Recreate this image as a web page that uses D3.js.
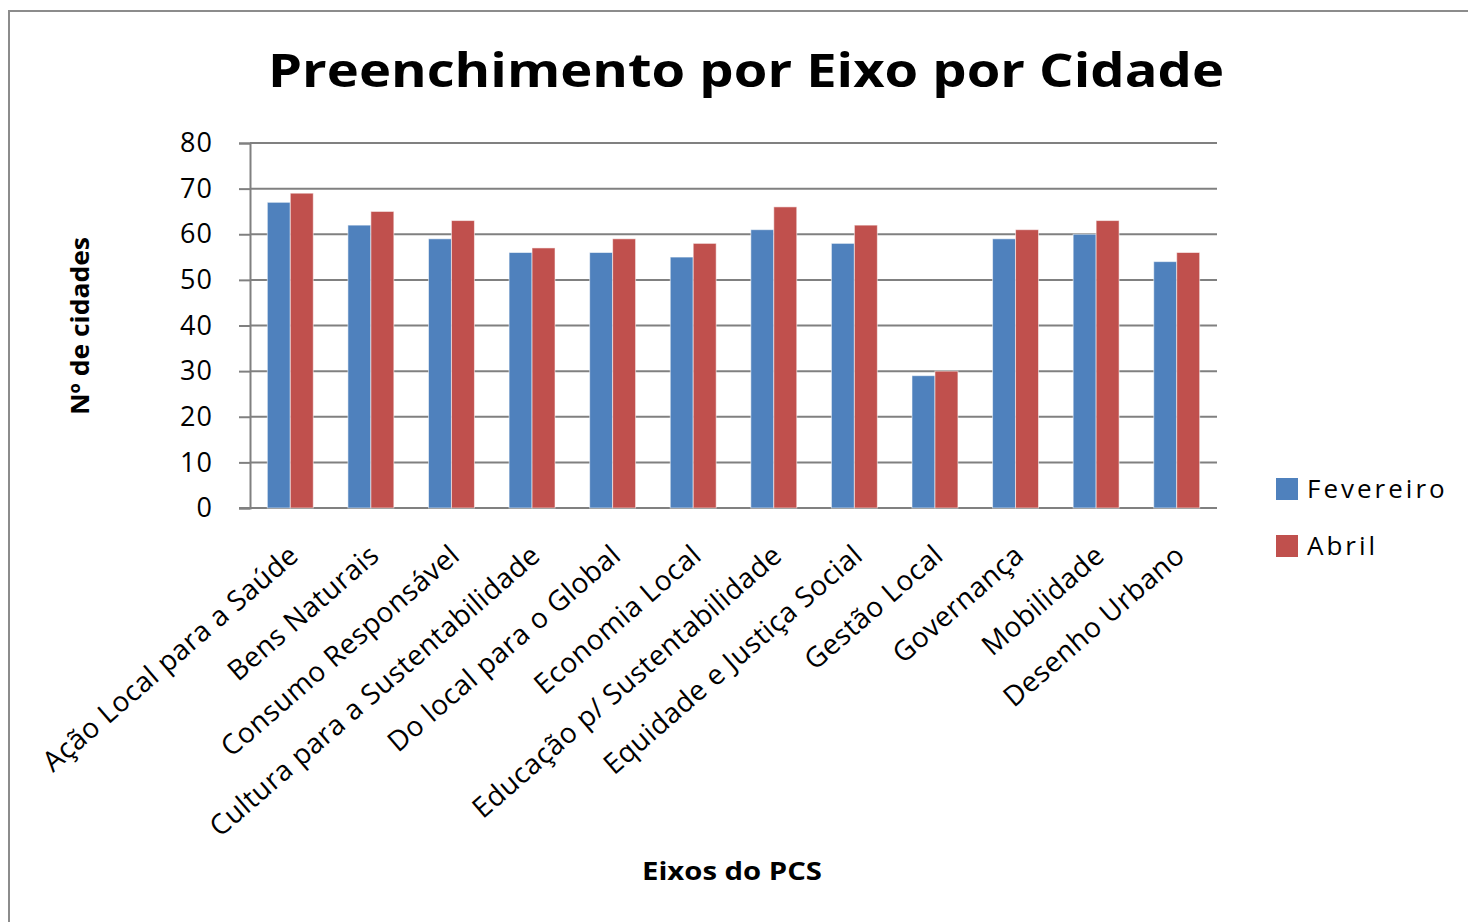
<!DOCTYPE html>
<html>
<head>
<meta charset="utf-8">
<script src="https://cdn.jsdelivr.net/npm/d3@7"></script>
<style>
  html, body { margin: 0; padding: 0; background: #fff; }
  svg { display: block; font-family: "Open Sans", "Noto Sans", sans-serif; }
</style>
</head>
<body>
<svg id="chart" width="1468" height="922"></svg>
<script>
// Eixos do PCS e número de cidades que preencheram cada eixo
const categories = [
  "Ação Local para a Saúde",
  "Bens Naturais",
  "Consumo Responsável",
  "Cultura para a Sustentabilidade",
  "Do local para o Global",
  "Economia Local",
  "Educação p/ Sustentabilidade",
  "Equidade e Justiça Social",
  "Gestão Local",
  "Governança",
  "Mobilidade",
  "Desenho Urbano"
];
const seriesNames = ["Fevereiro", "Abril"];
const fevereiro = [67, 62, 59, 56, 56, 55, 61, 58, 29, 59, 60, 54];
const abril     = [69, 65, 63, 57, 59, 58, 66, 62, 30, 61, 63, 56];
const yTicks = [0, 10, 20, 30, 40, 50, 60, 70, 80];
const colors = ["#4F81BD", "#C0504D"];

const svg = d3.select("#chart");

// outer chart frame
svg.append("rect")
  .attr("x", 9).attr("y", 11)
  .attr("width", 1480).attr("height", 940)
  .attr("fill", "#fff")
  .attr("stroke", "#8c8c8c").attr("stroke-width", 2);

const plot = { left: 250, right: 1217, top: 143, bottom: 508 };

const x = d3.scaleBand()
  .domain(categories)
  .range([plot.left, plot.right])
  .paddingInner(0.43)
  .paddingOuter(0.215);

const xs = d3.scaleBand()
  .domain(seriesNames)
  .range([0, x.bandwidth()]);

const y = d3.scaleLinear().domain([0, 80]).range([plot.bottom, plot.top]);

// horizontal gridlines
svg.append("g")
  .selectAll("line")
  .data(yTicks)
  .join("line")
  .attr("x1", plot.left).attr("x2", plot.right)
  .attr("y1", d => y(d)).attr("y2", d => y(d))
  .attr("stroke", "#808080").attr("stroke-width", 2);

// y axis with outside ticks
const yAxis = svg.append("g")
  .attr("transform", `translate(${plot.left},0)`)
  .call(d3.axisLeft(y).tickValues(yTicks).tickSize(11).tickPadding(26));
yAxis.select(".domain").attr("stroke", "#808080").attr("stroke-width", 2);
yAxis.selectAll(".tick line").attr("stroke", "#808080").attr("stroke-width", 2);
yAxis.selectAll(".tick text")
  .attr("font-family", "Open Sans")
  .attr("font-size", 27)
  .attr("letter-spacing", 1)
  .attr("fill", "#000");

// baseline extends left like the ticks
svg.append("line")
  .attr("x1", plot.left - 11).attr("x2", plot.right)
  .attr("y1", y(0)).attr("y2", y(0))
  .attr("stroke", "#808080").attr("stroke-width", 2);

// bars
const rows = categories.map((c, i) => ({ cat: c, values: [fevereiro[i], abril[i]] }));
const groups = svg.append("g")
  .selectAll("g")
  .data(rows)
  .join("g")
  .attr("transform", d => `translate(${x(d.cat)},0)`);

groups.selectAll("rect")
  .data(d => d.values.map((v, k) => ({ name: seriesNames[k], v, k })))
  .join("rect")
  .attr("x", d => xs(d.name))
  .attr("y", d => y(d.v))
  .attr("width", xs.bandwidth())
  .attr("height", d => y(0) - y(d.v))
  .attr("fill", d => colors[d.k])
  .attr("stroke", "rgba(255,255,255,0.55)")
  .attr("stroke-width", 1);

// rotated category labels
svg.append("g")
  .selectAll("text")
  .data(categories)
  .join("text")
  .attr("transform", d => {
    const cx = x(d) + x.bandwidth() / 2 + 10;
    return `translate(${cx},558) rotate(-41)`;
  })
  .attr("text-anchor", "end")
  .attr("font-family", "Open Sans")
  .attr("font-size", 28)
  .attr("letter-spacing", 0.5)
  .attr("fill", "#000")
  .text(d => d);

// title
svg.append("text")
  .attr("x", 746).attr("y", 87)
  .attr("text-anchor", "middle")
  .attr("font-family", "Open Sans")
  .attr("font-weight", 700)
  .attr("font-size", 46)
  .attr("textLength", 956)
  .attr("lengthAdjust", "spacingAndGlyphs")
  .attr("fill", "#000")
  .text("Preenchimento por Eixo por Cidade");

// y axis title
svg.append("text")
  .attr("transform", "translate(89,326) rotate(-90)")
  .attr("text-anchor", "middle")
  .attr("font-family", "Open Sans")
  .attr("font-weight", 700)
  .attr("font-size", 25)
  .attr("textLength", 178)
  .attr("lengthAdjust", "spacingAndGlyphs")
  .attr("fill", "#000")
  .text("Nº  de cidades");

// x axis title
svg.append("text")
  .attr("x", 732).attr("y", 880)
  .attr("text-anchor", "middle")
  .attr("font-family", "Open Sans")
  .attr("font-weight", 700)
  .attr("font-size", 25)
  .attr("textLength", 180)
  .attr("lengthAdjust", "spacingAndGlyphs")
  .attr("fill", "#000")
  .text("Eixos do PCS");

// legend
const legend = svg.append("g")
  .selectAll("g")
  .data(seriesNames)
  .join("g")
  .attr("transform", (d, i) => `translate(1276,${478 + i * 57})`);
legend.append("rect")
  .attr("width", 22).attr("height", 22)
  .attr("fill", (d, i) => colors[i]);
legend.append("text")
  .attr("x", 31).attr("y", 20)
  .attr("font-family", "Open Sans")
  .attr("font-size", 26)
  .attr("letter-spacing", 3)
  .attr("fill", "#000")
  .text(d => d);
</script>
</body>
</html>
